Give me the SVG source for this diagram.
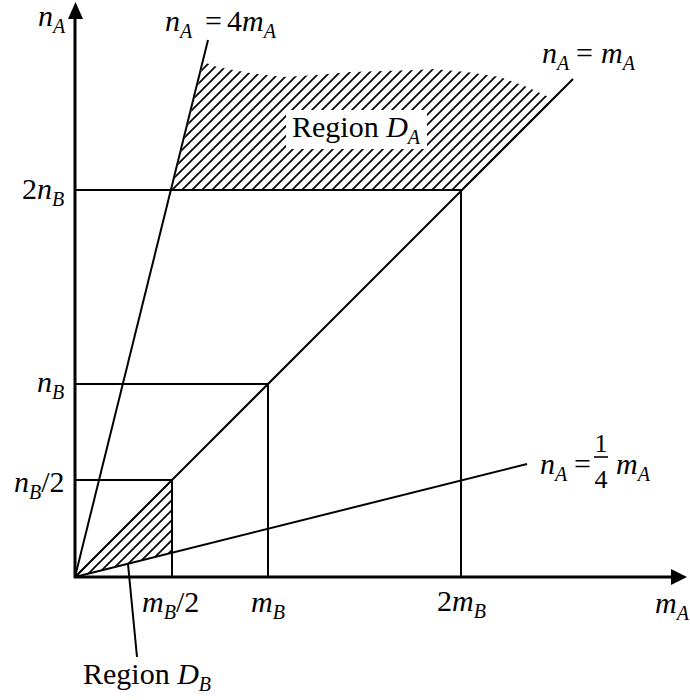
<svg xmlns="http://www.w3.org/2000/svg" width="690" height="700" viewBox="0 0 690 700">
<style>
.t{font-family:"Liberation Serif","Times New Roman",serif;font-size:30px;fill:#000}
.i{font-style:italic}
.s{font-style:italic;font-size:20px}
.ax{stroke:#000;stroke-width:3;fill:none}
.ln{stroke:#000;stroke-width:2;fill:none}
</style>
<defs>
<pattern id="hatch" patternUnits="userSpaceOnUse" width="10" height="10" patternTransform="translate(2,0)">
<path d="M-1,1 L1,-1 M0,10 L10,0 M9,11 L11,9" stroke="#000" stroke-width="1.7"/>
</pattern>
</defs>
<rect width="690" height="700" fill="#fff"/>
<g id="regionDA">
<polygon points="203.75,62 217,67 250,73 283,77 317,75 350,72 383,71 417,70 433,69 467,72 500,77 527,87 553,99 461,191 171.75,190" fill="url(#hatch)"/>
<rect x="286" y="110" width="141" height="39" fill="#fff"/>
<text class="t" x="292" y="137">Region <tspan class="i">D</tspan><tspan class="s" dy="7">A</tspan></text>
</g>
<g id="regionDB">
<polygon points="75,577 172,480 172,552.75" fill="url(#hatch)"/>
</g>
<g id="connectors">
<line class="ln" x1="75" y1="577" x2="573" y2="79"/>
<line class="ln" x1="75" y1="577" x2="208" y2="40"/>
<line class="ln" x1="75" y1="577" x2="527" y2="464"/>
<polyline class="ln" points="75,480 172,480 172,577"/>
<polyline class="ln" points="75,384 268,384 268,577"/>
<polyline class="ln" points="75,190 461,190 461,577"/>
<line class="ln" x1="128" y1="564" x2="137" y2="657"/>
<line class="ax" x1="75" y1="578" x2="75" y2="16"/>
<polygon points="75.5,2 68,19 83,19" fill="#000"/>
<line class="ax" x1="74" y1="577" x2="673" y2="577"/>
<polygon points="687,577 671,569 671,585" fill="#000"/>
</g>
<g id="labels">
<text class="t" x="38" y="26"><tspan class="i">n</tspan><tspan class="s" dy="7">A</tspan></text>
<text class="t" x="165" y="31"><tspan class="i">n</tspan><tspan class="s" dy="7">A</tspan><tspan x="205" dy="-7">=</tspan><tspan x="227">4</tspan><tspan class="i">m</tspan><tspan class="s" dy="7">A</tspan></text>
<text class="t" x="542" y="63"><tspan class="i">n</tspan><tspan class="s" dy="7">A</tspan><tspan x="576" dy="-7">=</tspan><tspan class="i" x="601">m</tspan><tspan class="s" dy="7">A</tspan></text>
<text class="t" x="22" y="199">2<tspan class="i">n</tspan><tspan class="s" dy="7">B</tspan></text>
<text class="t" x="37" y="392"><tspan class="i">n</tspan><tspan class="s" dy="7">B</tspan></text>
<text class="t" x="14" y="492"><tspan class="i">n</tspan><tspan class="s" dy="7">B</tspan><tspan dy="-7">/2</tspan></text>
<text class="t" x="142" y="612"><tspan class="i">m</tspan><tspan class="s" dy="7">B</tspan><tspan dy="-7">/2</tspan></text>
<text class="t" x="251" y="612"><tspan class="i">m</tspan><tspan class="s" dy="7">B</tspan></text>
<text class="t" x="437" y="611">2<tspan class="i">m</tspan><tspan class="s" dy="7">B</tspan></text>
<text class="t" x="655" y="613"><tspan class="i">m</tspan><tspan class="s" dy="7">A</tspan></text>
<text class="t" x="83" y="684">Region <tspan class="i">D</tspan><tspan class="s" dy="7">B</tspan></text>
<text class="t" x="540" y="474"><tspan class="i">n</tspan><tspan class="s" dy="7">A</tspan><tspan x="574" dy="-7">=</tspan><tspan class="i" x="616">m</tspan><tspan class="s" dy="7">A</tspan></text>
<text class="t" x="601" y="452" text-anchor="middle" style="font-size:26px">1</text>
<line x1="594" y1="457" x2="608" y2="457" stroke="#000" stroke-width="1.6"/>
<text class="t" x="601" y="488" text-anchor="middle" style="font-size:26px">4</text>
</g>
</svg>
